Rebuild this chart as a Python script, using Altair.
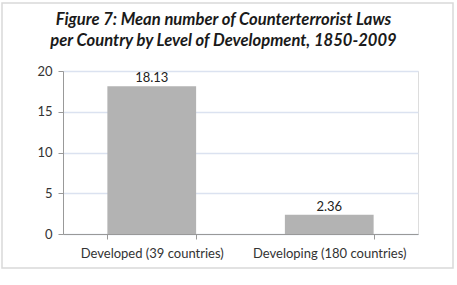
import altair as alt
import pandas as pd

categories = ["Developed (39 countries)", "Developing (180 countries)"]
values = [18.13, 2.36]
labels = ["18.13", "2.36"]
y_ticks = [0, 5, 10, 15, 20]
title_lines = ["Figure 7: Mean number of Counterterrorist Laws",
               "per Country by Level of Development, 1850-2009"]

df = pd.DataFrame({"cat": categories, "val": values, "lab": labels})

W, H = 355, 163
FONT = "Lato"

one = pd.DataFrame({"a": [0]})
frame = alt.Chart(one).mark_rect(
    fillOpacity=0, stroke="#d9d9d9", strokeWidth=1.5
).encode(
    x=alt.value(-61), x2=alt.value(W + 35),
    y=alt.value(-68), y2=alt.value(H + 34),
)

title1 = alt.Chart(one).mark_text(
    text=title_lines[0], font=FONT, fontSize=16.6, fontWeight="bold", fontStyle="italic",
    color="#1a1a1a", align="center", baseline="middle"
).encode(x=alt.value(W / 2 - 17), y=alt.value(-51))
title2 = alt.Chart(one).mark_text(
    text=title_lines[1], font=FONT, fontSize=16.6, fontWeight="bold", fontStyle="italic",
    color="#1a1a1a", align="center", baseline="middle"
).encode(x=alt.value(W / 2 - 17), y=alt.value(-30))

base = alt.Chart(df).encode(
    x=alt.X("cat:N", sort=categories, title=None,
            scale=alt.Scale(paddingInner=0.5, paddingOuter=0.25),
            axis=alt.Axis(labelAngle=0, labelFontSize=13, labelColor="#333333",
                          labelFont=FONT, domainColor="#999999", tickColor="#999999",
                          tickBand="extent", tickSize=5, labelPadding=8, grid=False)),
    y=alt.Y("val:Q", title=None,
            scale=alt.Scale(domain=[0, 20], nice=False),
            axis=alt.Axis(values=y_ticks, labelFontSize=13, labelColor="#333333",
                          labelFont=FONT, domainColor="#999999", tickColor="#999999",
                          tickSize=5, labelPadding=6, gridColor="#dbe2f0", gridWidth=1.5)),
)

bars = base.mark_bar(color="#b3b3b3")
text = base.mark_text(dy=-8, fontSize=13, font=FONT, color="#222222").encode(text="lab:N")

chart = alt.layer(frame, title1, title2, bars, text).properties(
    width=W, height=H,
    padding={"left": 63, "top": 71, "right": 39, "bottom": 51},
    autosize=alt.AutoSizeParams(type="none"),
).configure_view(stroke=None).configure(background="white")

chart.save("out.html", embed_options={"renderer": "svg", "actions": False})
